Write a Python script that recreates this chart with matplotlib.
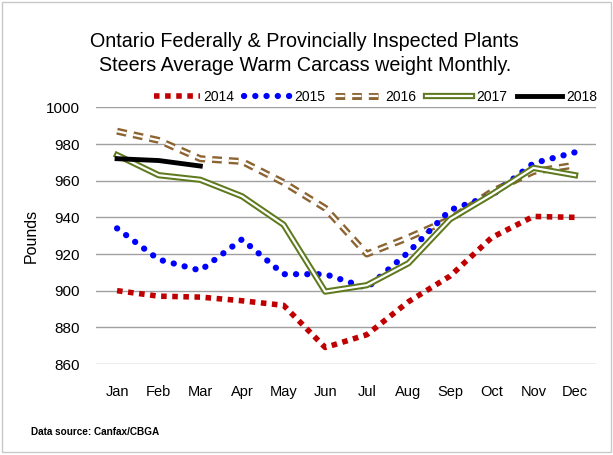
import matplotlib
matplotlib.use('Agg')
import matplotlib.pyplot as plt
from matplotlib.lines import Line2D
from matplotlib.legend_handler import HandlerTuple
from matplotlib.patches import Rectangle

plt.rcParams['font.family'] = ['Liberation Sans Narrow', 'Liberation Sans', 'DejaVu Sans']
plt.rcParams['lines.scale_dashes'] = False

months = ['Jan', 'Feb', 'Mar', 'Apr', 'May', 'Jun', 'Jul', 'Aug', 'Sep', 'Oct', 'Nov', 'Dec']
w2014 = [900, 897, 896.5, 894.5, 892, 869, 876, 894, 908, 929, 940.5, 940]
w2015 = [934, 917, 911, 928, 909, 909, 901.5, 921, 944, 952, 969.5, 975.5]
w2016 = [987, 982, 972, 970.5, 959, 945, 920, 929, 939, 954, 965, 968.5]
w2017 = [974, 963, 960.5, 951.5, 936, 899.5, 903, 915, 939, 952.5, 967, 963]
w2018 = [972, 971, 968]

fig = plt.figure(figsize=(6.13, 4.55), dpi=100)
ax = fig.add_axes([0.157, 0.2, 0.815, 0.564])
x = list(range(len(months)))

c14 = '#C00000'
c15 = '#0000FF'
c16 = '#8C6431'
c17 = '#5F7A1E'

# 2014 - square dots
ax.plot(x, w2014, color=c14, lw=4, linestyle=(0, (4, 4)), dash_capstyle='butt', zorder=3)
# 2015 - round dots
ax.plot(x, w2015, color=c15, lw=4.5, linestyle=(0, (0.1, 8)), dash_capstyle='round', zorder=3)
# 2016 - double dashed
ax.plot(x, w2016, color=c16, lw=5, linestyle=(0, (7, 5)), dash_capstyle='butt', zorder=2)
ax.plot(x, w2016, color='white', lw=1.6, linestyle=(0, (7, 5)), dash_capstyle='butt', zorder=2)
# 2017 - double line
ax.plot(x, w2017, color=c17, lw=4.5, zorder=4)
ax.plot(x, w2017, color='white', lw=1.6, zorder=4)
# 2018
ax.plot(x[:len(w2018)], w2018, color='black', lw=3.5, zorder=5)

ax.set_xlim(-0.5, 11.5)
ax.set_ylim(860, 1000)
ax.set_yticks(range(860, 1001, 20))
ax.set_xticks(x)
ax.set_xticklabels(months)
ax.grid(axis='y', color='#A0A0A0', lw=1)
ax.set_axisbelow(True)
for s in ax.spines.values():
    s.set_visible(False)
ax.tick_params(axis='y', length=0, labelsize=11, pad=12)
ax.tick_params(axis='x', length=0, labelsize=10.5, pad=15)
ax.set_ylabel('Pounds', fontsize=11.5, labelpad=5)

# legend
h14 = Line2D([], [], color=c14, lw=4, linestyle=(0, (4, 4)), dash_capstyle='butt')
h15 = Line2D([], [], color=c15, lw=4.5, linestyle=(0, (0.1, 8)), dash_capstyle='round')
h16a = Line2D([], [], color=c16, lw=5, linestyle=(0, (7, 5)), dash_capstyle='butt')
h16b = Line2D([], [], color='white', lw=1.6, linestyle=(0, (7, 5)), dash_capstyle='butt')
h17a = Line2D([], [], color=c17, lw=4.5)
h17b = Line2D([], [], color='white', lw=1.6)
h18 = Line2D([], [], color='black', lw=3.5)
ax.legend([h14, h15, (h16a, h16b), (h17a, h17b), h18], ['2014', '2015', '2016', '2017', '2018'],
          handler_map={tuple: HandlerTuple(ndivide=1, pad=0)},
          loc='center left', bbox_to_anchor=(0.115, 1.04), ncol=5, frameon=False,
          fontsize=10, handlelength=3.3, handletextpad=0.3, columnspacing=0.7,
          borderaxespad=0, borderpad=0)

fig.text(0.497, 0.93, 'Ontario Federally & Provincially Inspected Plants\nSteers Average Warm Carcass weight Monthly.',
         ha='center', va='top', fontsize=14.2, linespacing=1.35)
fig.text(0.05, 0.045, 'Data source: Canfax/CBGA', fontsize=7.2, fontweight='bold',
         family=['Liberation Sans', 'DejaVu Sans'])

fig.patches.append(Rectangle((0.004, 0.006), 0.993, 0.99, transform=fig.transFigure,
                             fill=False, edgecolor='#C8C8C8', lw=1))

fig.savefig('out.png', dpi=100)
